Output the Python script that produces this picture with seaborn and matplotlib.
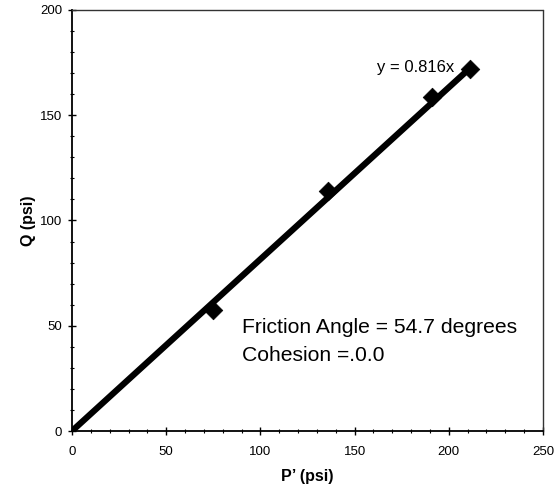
import matplotlib
matplotlib.use("Agg")
import matplotlib.pyplot as plt
import seaborn as sns
import pandas as pd
from matplotlib.ticker import MultipleLocator

# Data
p_values = [75, 136, 191, 211]
q_values = [57.5, 114, 158.5, 172]
trend_x = [0, 211]
trend_y = [0, 172.2]
equation_label = "y = 0.816x"
annotation_lines = ["Friction Angle = 54.7 degrees", "Cohesion =.0.0"]

sns.set_theme(style="white")
plt.rcParams['font.family'] = ['Liberation Sans', 'DejaVu Sans']
plt.rcParams['text.color'] = 'black'
plt.rcParams['axes.labelcolor'] = 'black'

pts = pd.DataFrame({"P": p_values, "Q": q_values})
trend = pd.DataFrame({"P": trend_x, "Q": trend_y})

fig = plt.figure(figsize=(5.55, 4.9), dpi=100)
ax = fig.add_axes([72/555, 1-431/490, (543-72)/555, (431-10)/490])

sns.lineplot(data=trend, x="P", y="Q", ax=ax, color="black", linewidth=4.5,
             solid_capstyle="butt")
sns.scatterplot(data=pts, x="P", y="Q", ax=ax, marker="D", s=90, color="black",
                edgecolor="black", linewidth=0.5, zorder=3)

ax.set_xlim(0, 250)
ax.set_ylim(0, 200)
ax.xaxis.set_major_locator(MultipleLocator(50))
ax.yaxis.set_major_locator(MultipleLocator(50))
ax.xaxis.set_minor_locator(MultipleLocator(10))
ax.yaxis.set_minor_locator(MultipleLocator(10))

ax.tick_params(axis="both", which="major", direction="inout", length=6, width=1,
               colors="black", labelsize=9.5, bottom=True, left=True)
ax.tick_params(axis="both", which="minor", direction="inout", length=3.5, width=0.8,
               colors="black", bottom=True, left=True)
ax.tick_params(axis="x", which="major", pad=8)
ax.tick_params(axis="y", which="major", pad=4)

for side in ["left", "bottom"]:
    ax.spines[side].set_color("black")
    ax.spines[side].set_linewidth(1.3)
for side in ["top", "right"]:
    ax.spines[side].set_visible(True)
    ax.spines[side].set_color("#333333")
    ax.spines[side].set_linewidth(1.0)
    ax.spines[side].set_linestyle((0, (1, 1)))

ax.set_xlabel("P\u2019 (psi)", fontsize=11.5, fontweight="bold", labelpad=8, color="black")
ax.set_ylabel("Q (psi)", fontsize=11.5, fontweight="bold", labelpad=3, color="black")

ax.text(162, 172.5, equation_label, fontsize=12, color="black", va="center", ha="left")
ax.text(90, 49, annotation_lines[0], fontsize=15.2, color="black", va="center", ha="left")
ax.text(90, 36, annotation_lines[1], fontsize=15.2, color="black", va="center", ha="left")

fig.savefig("out.png", dpi=100)
